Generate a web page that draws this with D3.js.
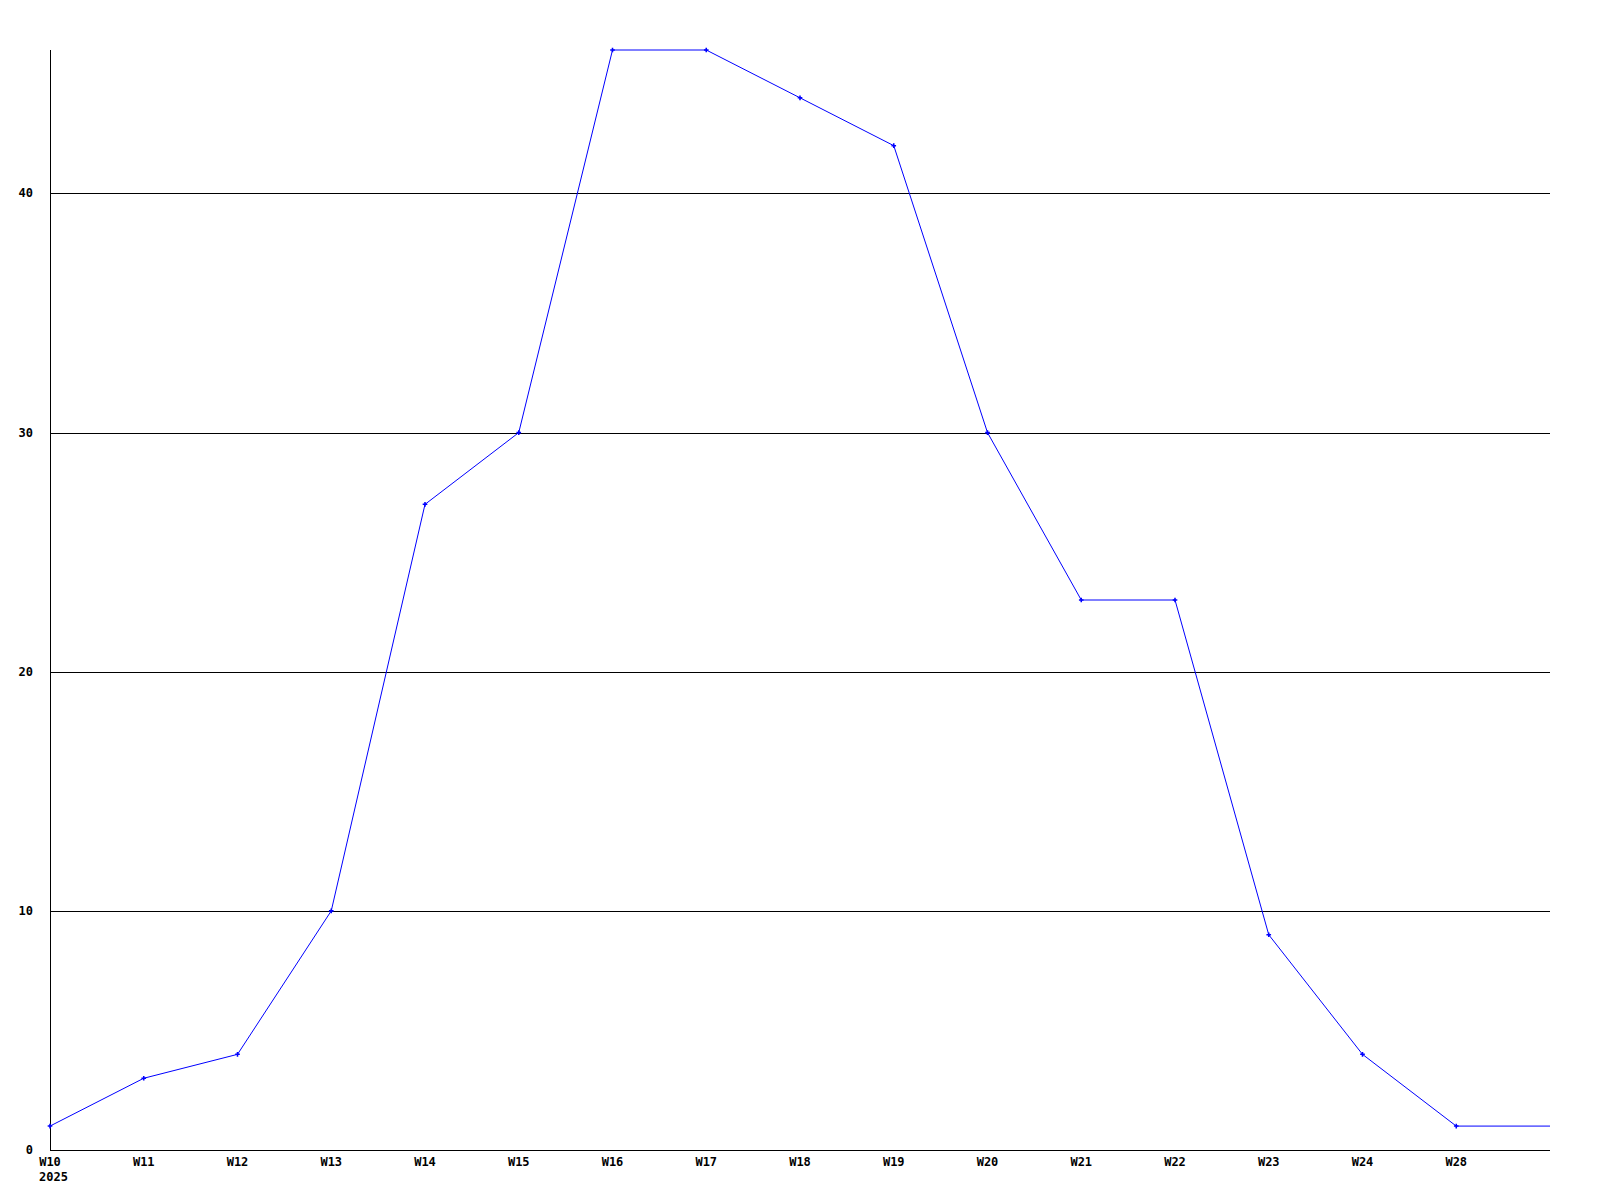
<!DOCTYPE html>
<html><head><meta charset="utf-8">
<script src="https://cdn.jsdelivr.net/npm/d3@7"></script>
<style>body{margin:0;background:#fff}svg{display:block}text{font-family:"DejaVu Sans Mono",monospace;font-weight:bold;font-size:12px;fill:#000}</style>
</head><body><svg id="c" width="1600" height="1200"></svg>
<script>
const weeks = ["W10","W11","W12","W13","W14","W15","W16","W17","W18","W19","W20","W21","W22","W23","W24","W28"];
const values = [1,3,4,10,27,30,46,46,44,42,30,23,23,9,4,1];
const yTicks = [0,10,20,30,40];
const yearLabel = "2025";

(function () {
const svg = d3.select("#c");
const mLeft = 50, mRight = 1550, mTop = 50, mBottom = 1150;
const x = d3.scaleLinear().domain([0, weeks.length]).range([mLeft, mRight]);
const y = d3.scaleLinear().domain([0, 46]).range([mBottom, mTop]);

// gridlines
svg.append("g").selectAll("line").data(yTicks.filter(d => d > 0)).join("line")
  .attr("x1", mLeft).attr("x2", mRight)
  .attr("y1", d => Math.round(y(d)) + 0.5).attr("y2", d => Math.round(y(d)) + 0.5)
  .attr("stroke", "#000").attr("stroke-width", 1);

// axes lines
svg.append("line").attr("x1", mLeft + 0.5).attr("x2", mLeft + 0.5).attr("y1", mTop).attr("y2", mBottom)
  .attr("stroke", "#000");
svg.append("line").attr("x1", mLeft).attr("x2", mRight).attr("y1", mBottom + 0.5).attr("y2", mBottom + 0.5)
  .attr("stroke", "#000");

// y labels
svg.append("g").selectAll("text").data(yTicks).join("text")
  .attr("x", 33).attr("y", d => y(d) + 4).attr("text-anchor", "end").text(d => d);

// x labels
svg.append("g").selectAll("text").data(weeks).join("text")
  .attr("x", (d, i) => x(i)).attr("y", 1166).attr("text-anchor", "middle").text(d => d);
svg.append("text").attr("x", x(0) - 11).attr("y", 1181).text(yearLabel);

// line (last value continues to the right edge)
const pts = values.map((v, i) => [x(i), y(v)]);
pts.push([x(weeks.length), y(values[values.length - 1])]);
svg.append("path").attr("d", d3.line()(pts))
  .attr("fill", "none").attr("stroke", "#0000ff").attr("stroke-width", 1);

// markers
svg.append("g").selectAll("path").data(values).join("path")
  .attr("transform", (d, i) => `translate(${x(i)},${y(d)})`)
  .attr("d", d3.symbol().type(d3.symbolCross).size(12))
  .attr("fill", "#0000ff");
})();
</script></body></html>
